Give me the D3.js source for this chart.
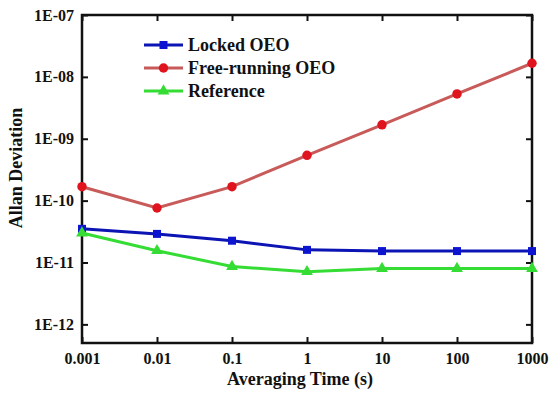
<!DOCTYPE html>
<html>
<head>
<meta charset="utf-8">
<script src="https://d3js.org/d3.v7.min.js"></script>
<style>
  body { margin: 0; background: #fff; }
</style>
</head>
<body>
<script>
// averaging times (s)
var tau = [0.001, 0.01, 0.1, 1, 10, 100, 1000];
var locked = [3.5e-11, 2.9e-11, 2.25e-11, 1.6e-11, 1.53e-11, 1.53e-11, 1.53e-11];
var freeRunning = [1.68e-10, 7.6e-11, 1.68e-10, 5.4e-10, 1.68e-9, 5.3e-9, 1.66e-8];
var reference = [3.0e-11, 1.55e-11, 8.6e-12, 7.1e-12, 8.0e-12, 8.0e-12, 8.0e-12];
var xTicks = ["0.001", "0.01", "0.1", "1", "10", "100", "1000"];
var yTicks = ["1E-12", "1E-11", "1E-10", "1E-09", "1E-08", "1E-07"];

var series = [
  {name: "Locked OEO", values: locked, line: "#0c14b4", fill: "#0c14d0", shape: d3.symbolSquare, size: 64},
  {name: "Free-running OEO", values: freeRunning, line: "#c85a5a", fill: "#e0141e", shape: d3.symbolCircle, size: 70},
  {name: "Reference", values: reference, line: "#34dc34", fill: "#34dc34", shape: d3.symbolTriangle, size: 60}
];

var FONT = "Liberation Serif";
var W = 554, H = 396;
var m = {left: 82, right: 22, top: 15, bottom: 53};

var svg = d3.select("body").append("svg")
  .attr("width", W).attr("height", H);

var x = d3.scaleLog().domain([0.001, 1000]).range([m.left, W - m.right]);
var y = d3.scaleLog().domain([5e-13, 1e-7]).range([H - m.bottom, m.top]);

var tickVals = xTicks.map(Number);
var yVals = yTicks.map(Number);

function label(sel, size) {
  sel.attr("font-family", FONT).attr("font-weight", "bold")
    .attr("font-size", size).attr("fill", "#111");
}

// axes, ticks pointing inward
svg.append("g")
  .attr("transform", "translate(0," + (H - m.bottom) + ")")
  .call(d3.axisBottom(x).tickValues(tickVals).tickFormat(function(d, i) { return xTicks[i]; })
    .tickSizeInner(-6).tickSizeOuter(0).tickPadding(10));
svg.append("g")
  .attr("transform", "translate(0," + m.top + ")")
  .call(d3.axisTop(x).tickValues(tickVals).tickFormat("").tickSizeInner(-6).tickSizeOuter(0));
svg.append("g")
  .attr("transform", "translate(" + m.left + ",0)")
  .call(d3.axisLeft(y).tickValues(yVals).tickFormat(function(d, i) { return yTicks[i]; })
    .tickSizeInner(-6).tickSizeOuter(0).tickPadding(8));
svg.append("g")
  .attr("transform", "translate(" + (W - m.right) + ",0)")
  .call(d3.axisRight(y).tickValues(yVals).tickFormat("").tickSizeInner(-6).tickSizeOuter(0));

svg.selectAll("g").attr("font-family", FONT);
svg.selectAll(".domain").remove();
svg.selectAll(".tick line").attr("stroke", "#111").attr("stroke-width", 2);
svg.selectAll(".tick text").call(label, 16);

svg.append("rect")
  .attr("x", m.left).attr("y", m.top)
  .attr("width", W - m.left - m.right).attr("height", H - m.top - m.bottom)
  .attr("fill", "none").attr("stroke", "#111").attr("stroke-width", 2.5);

// axis titles
svg.append("text")
  .attr("x", 300).attr("y", 385)
  .attr("text-anchor", "middle")
  .call(label, 18)
  .text("Averaging Time (s)");
svg.append("text")
  .attr("transform", "translate(22,168) rotate(-90)")
  .attr("text-anchor", "middle")
  .call(label, 18)
  .text("Allan Deviation");

var line = d3.line()
  .x(function(d, i) { return x(tau[i]); })
  .y(function(d) { return y(d); });

series.forEach(function(s) {
  svg.append("path")
    .datum(s.values)
    .attr("d", line)
    .attr("fill", "none")
    .attr("stroke", s.line)
    .attr("stroke-width", 3);
  svg.selectAll(null)
    .data(s.values)
    .enter().append("path")
    .attr("transform", function(d, i) { return "translate(" + x(tau[i]) + "," + y(d) + ")"; })
    .attr("d", d3.symbol().type(s.shape).size(s.size))
    .attr("fill", s.fill);
});

// legend
var lg = svg.append("g").attr("transform", "translate(144,45)");
series.forEach(function(s, i) {
  var g = lg.append("g").attr("transform", "translate(0," + (i * 23) + ")");
  g.append("line").attr("x1", 0).attr("x2", 39).attr("y1", 0).attr("y2", 0)
    .attr("stroke", s.line).attr("stroke-width", 3);
  g.append("path").attr("transform", "translate(19.5,0)")
    .attr("d", d3.symbol().type(s.shape).size(s.size)).attr("fill", s.fill);
  g.append("text").attr("x", 44).attr("y", 6)
    .call(label, 18)
    .text(s.name);
});
</script>
</body>
</html>
